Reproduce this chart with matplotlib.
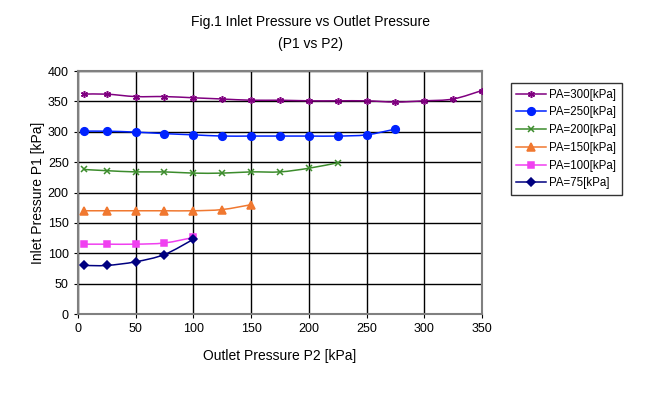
import numpy as np
import matplotlib.pyplot as plt
from matplotlib.path import Path
from matplotlib.patches import PathPatch
from matplotlib.lines import Line2D

plt.rcParams['font.family'] = ['Liberation Sans', 'DejaVu Sans']

# data
p2_300 = [5, 25, 50, 75, 100, 125, 150, 175, 200, 225, 250, 275, 300, 325, 350]
p1_300 = [362, 362, 358, 358, 356, 354, 352, 352, 351, 351, 351, 349, 351, 354, 368]
p2_250 = [5, 25, 50, 75, 100, 125, 150, 175, 200, 225, 250, 275]
p1_250 = [301, 301, 299.5, 297, 295, 293, 293, 293, 293, 293, 295, 304.5]
p2_200 = [5, 25, 50, 75, 100, 125, 150, 175, 200, 225]
p1_200 = [238, 236, 234, 234, 232, 232, 234, 234, 240, 249]
p2_150 = [5, 25, 50, 75, 100, 125, 150]
p1_150 = [170, 170, 170, 170, 170, 172, 180]
p2_100 = [5, 25, 50, 75, 100]
p1_100 = [115, 115, 115, 117, 126]
p2_75 = [5, 25, 50, 75, 100]
p1_75 = [80, 80, 86, 98, 123]

series = [
    ('PA=300[kPa]', p2_300, p1_300, '#800080', (6, 2, 0), 5),
    ('PA=250[kPa]', p2_250, p1_250, '#0022FF', 'o', 5.5),
    ('PA=200[kPa]', p2_200, p1_200, '#3C8C2C', 'x', 5),
    ('PA=150[kPa]', p2_150, p1_150, '#F07830', '^', 6),
    ('PA=100[kPa]', p2_100, p1_100, '#F040F0', 's', 5),
    ('PA=75[kPa]', p2_75, p1_75, '#000080', 'D', 4.5),
]


def smooth_path(x, y, t=1/6):
    # bezier segments through the points, like a spreadsheet smoothed line
    x = np.asarray(x, float)
    y = np.asarray(y, float)
    n = len(x)
    verts = [(x[0], y[0])]
    codes = [Path.MOVETO]
    for i in range(n - 1):
        i0 = max(i - 1, 0)
        i3 = min(i + 2, n - 1)
        c1 = (x[i] + t * (x[i + 1] - x[i0]), y[i] + t * (y[i + 1] - y[i0]))
        c2 = (x[i + 1] - t * (x[i3] - x[i]), y[i + 1] - t * (y[i3] - y[i]))
        verts += [c1, c2, (x[i + 1], y[i + 1])]
        codes += [Path.CURVE4] * 3
    return Path(verts, codes)


fig = plt.figure(figsize=(6.54, 3.97), dpi=100)
ax = fig.add_axes([0.119, 0.209, 0.618, 0.612])

handles = []
for label, xs, ys, color, marker, ms in series:
    ax.add_patch(PathPatch(smooth_path(xs, ys), facecolor='none',
                           edgecolor=color, lw=1.1, zorder=3))
    ax.plot(xs, ys, linestyle='none', marker=marker, color=color,
            markersize=ms, markeredgewidth=1.1, zorder=4)
    handles.append(Line2D([], [], color=color, lw=1.1, marker=marker,
                          markersize=ms, markeredgewidth=1.1, label=label))

ax.set_xlim(0, 350)
ax.set_ylim(0, 400)
ax.set_xticks(np.arange(0, 351, 50))
ax.set_yticks(np.arange(0, 401, 50))
ax.grid(True, color='black', lw=1.0)
ax.set_axisbelow(True)
for s in ax.spines.values():
    s.set_color('#808080')
    s.set_linewidth(1.5)
ax.tick_params(labelsize=9, length=3, color='black')

ax.set_xlabel('Outlet Pressure P2 [kPa]', fontsize=10, labelpad=10)
ax.set_ylabel('Inlet Pressure P1 [kPa]', fontsize=10, labelpad=2)
fig.text(0.475, 0.945, 'Fig.1 Inlet Pressure vs Outlet Pressure', ha='center',
         va='center', fontsize=10)
fig.text(0.475, 0.89, '(P1 vs P2)', ha='center', va='center', fontsize=10)

leg = fig.legend(handles=handles, loc='upper left',
                 bbox_to_anchor=(0.781, 0.79), fontsize=8.3, frameon=True,
                 fancybox=False, edgecolor='black', handlelength=2.6,
                 borderpad=0.45, labelspacing=0.5, handletextpad=0.3,
                 borderaxespad=0)
leg.get_frame().set_linewidth(1.0)

fig.savefig('out.png', dpi=100)
